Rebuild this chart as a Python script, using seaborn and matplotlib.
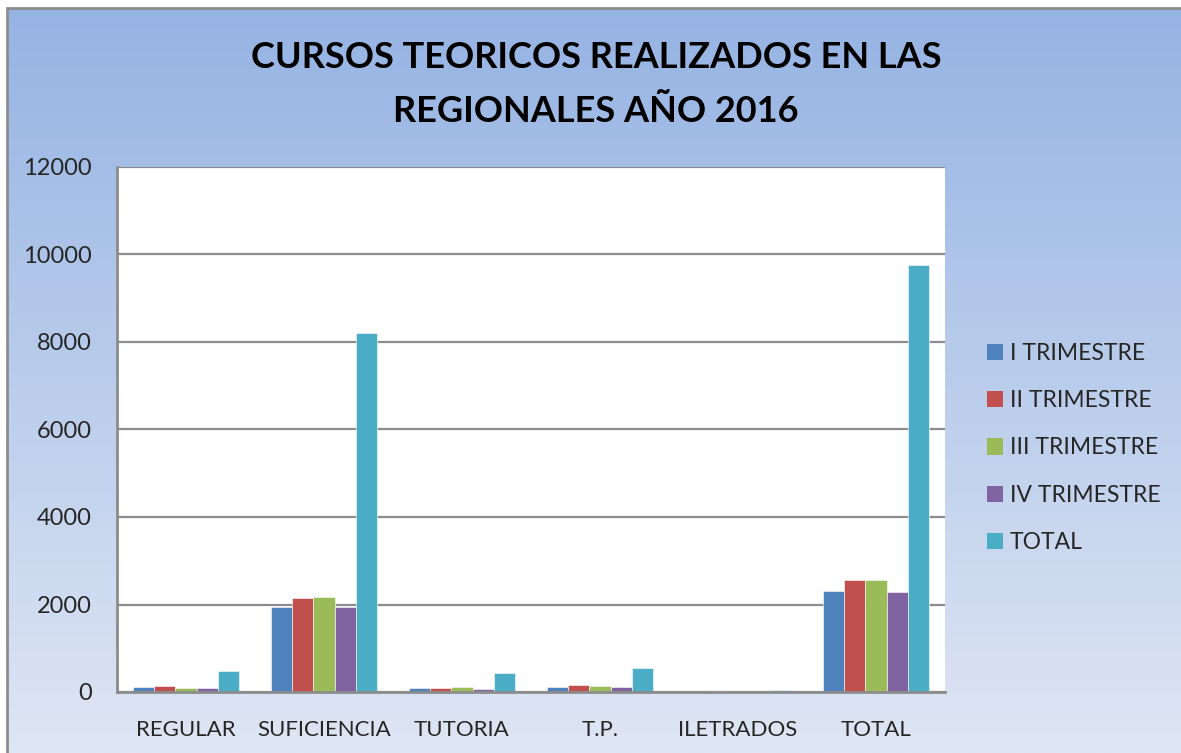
import numpy as np
import pandas as pd
import matplotlib
matplotlib.use("Agg")
import matplotlib.pyplot as plt
import seaborn as sns
from matplotlib.colors import LinearSegmentedColormap
from matplotlib.patches import Rectangle

categories = ["REGULAR", "SUFICIENCIA", "TUTORIA", "T.P.", "ILETRADOS", "TOTAL"]
series = ["I TRIMESTRE", "II TRIMESTRE", "III TRIMESTRE", "IV TRIMESTRE", "TOTAL"]
trim_1 = [120, 1950, 100, 122, 5, 2320]
trim_2 = [140, 2140, 100, 153, 15, 2550]
trim_3 = [100, 2170, 115, 131, 5, 2550]
trim_4 = [100, 1950, 78, 122, 5, 2290]
total = [470, 8210, 427, 556, 45, 9750]
yticks = [0, 2000, 4000, 6000, 8000, 10000, 12000]
title_lines = ["CURSOS TEORICOS REALIZADOS EN LAS", "REGIONALES AÑO 2016"]

colors = ["#4F81BD", "#C0504D", "#9BBB59", "#8064A2", "#4BACC6"]

values = [trim_1, trim_2, trim_3, trim_4, total]
rows = []
for s, vals in zip(series, values):
    for c, v in zip(categories, vals):
        rows.append({"cat": c, "serie": s, "val": v})
df = pd.DataFrame(rows)

sns.set_theme(style="white")
plt.rcParams["font.family"] = ["Lato", "DejaVu Sans"]

W, H = 1181, 753
fig = plt.figure(figsize=(W / 100, H / 100), dpi=100)
fig.patch.set_facecolor("white")

# gradient background
bg = fig.add_axes([7 / W, 0, 1 - 7 / W, 1 - 8 / H], zorder=0)
cmap = LinearSegmentedColormap.from_list("g", ["#95B3E3", "#DFE6F4"])
grad = np.linspace(0, 1, 256).reshape(-1, 1)
bg.imshow(grad, aspect="auto", cmap=cmap, extent=[0, 1, 0, 1], origin="upper")
bg.set_axis_off()
fig.patches.append(Rectangle((7 / W, -0.01), 1.0, 1 - 8 / H + 0.01, transform=fig.transFigure,
                             fill=False, edgecolor="#8C8C8C", linewidth=2, zorder=1))

ax = fig.add_axes([117 / W, 1 - 692 / H, (945 - 117) / W, (692 - 167) / H], zorder=2)
ax.set_facecolor("white")
sns.barplot(data=df, x="cat", y="val", hue="serie", palette=colors, width=0.77,
            order=categories, hue_order=series, ax=ax, legend=False, saturation=1,
            edgecolor="white", linewidth=0.4)

ax.set_ylim(0, 12000)
ax.set_yticks(yticks)
ax.set_yticklabels([str(t) for t in yticks], fontsize=17)
ax.set_xlim(-0.5, len(categories) - 0.5)
ax.tick_params(axis="x", labelsize=16, length=0, pad=20)
ax.tick_params(axis="y", length=0, pad=18)
ax.set_xlabel("")
ax.set_ylabel("")
ax.yaxis.grid(True, color="#8C8C8C", linewidth=1.6)
ax.set_axisbelow(True)
for side in ["top", "right"]:
    ax.spines[side].set_visible(False)
for side in ["left", "bottom"]:
    ax.spines[side].set_color("#8C8C8C")
    ax.spines[side].set_linewidth(2)

for line, yc in zip(title_lines, [57, 112]):
    fig.text(596 / W, 1 - yc / H, line, ha="center", va="center", fontsize=26,
             fontweight="bold", color="black")

handles = [Rectangle((0, 0), 1, 1, facecolor=c, edgecolor="none") for c in colors]
fig.legend(handles, series, loc="center left", bbox_to_anchor=(966 / W, 1 - 448 / H),
           frameon=False, fontsize=16.5, handlelength=0.7, handleheight=0.7,
           handletextpad=0.3, labelspacing=1.15)

fig.savefig("out.png", dpi=100)
